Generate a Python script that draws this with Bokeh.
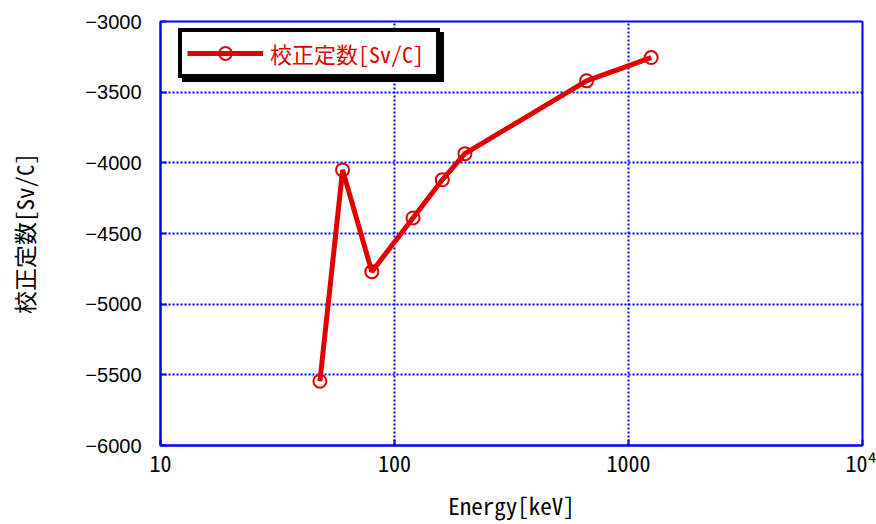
from bokeh.plotting import figure
from bokeh.models import Range1d, FixedTicker, Legend, LegendItem
from bokeh.embed import file_html
from bokeh.resources import INLINE

# ---- data ----
energy_kev = [48, 60, 80, 120, 160, 200, 662, 1250]
calib_const = [-5545, -4050, -4770, -4390, -4120, -3935, -3420, -3255]
x_ticks = [10, 100, 1000, 10000]
x_tick_labels = ["10", "100", "1000", "10⁴"]
y_ticks = [-6000, -5500, -5000, -4500, -4000, -3500, -3000]
series_label = "校正定数[Sv/C]"
x_label = "Energy[keV]"
y_label = "校正定数[Sv/C]"

CJK = "Noto Sans Mono CJK JP"
LAT = "Liberation Sans"
RED = "#e00000"
BLUE = "#0000ff"

p = figure(width=876, height=524, x_axis_type="log",
           x_range=Range1d(10, 10000), y_range=Range1d(-6000, -3000),
           output_backend="svg", toolbar_location=None,
           min_border_left=160, min_border_right=14,
           min_border_top=21, min_border_bottom=76)

p.background_fill_color = "white"
p.border_fill_color = "white"
p.outline_line_color = BLUE
p.outline_line_width = 2

# axes
p.xaxis.ticker = FixedTicker(ticks=x_ticks)
p.xaxis.major_label_overrides = {t: l for t, l in zip(x_ticks, x_tick_labels)}
p.yaxis.ticker = FixedTicker(ticks=y_ticks)
for ax in (p.xaxis, p.yaxis):
    ax.axis_line_color = BLUE
    ax.axis_line_width = 2
    ax.major_tick_line_color = BLUE
    ax.major_tick_line_width = 2
    ax.major_tick_in = 6
    ax.major_tick_out = 0
    ax.minor_tick_line_color = None
    ax.major_label_text_color = "black"
    ax.axis_label_text_color = "black"
    ax.axis_label_text_font = CJK
    ax.axis_label_text_font_size = "23px"
    ax.axis_label_text_font_style = "normal"

p.xaxis.major_label_text_font = CJK
p.xaxis.major_label_text_font_size = "22px"
p.xaxis.major_label_standoff = 0
p.xaxis.axis_label = x_label
p.xaxis.axis_label_standoff = 7

p.yaxis.major_label_text_font = LAT
p.yaxis.major_label_text_font_size = "20px"
p.yaxis.major_label_standoff = 19
p.yaxis.axis_label = y_label
p.yaxis.axis_label_standoff = 41

# grids
for g in (p.xgrid, p.ygrid):
    g.grid_line_color = BLUE
    g.grid_line_width = 2
    g.grid_line_dash = "2 2"
p.ygrid.ticker = FixedTicker(ticks=y_ticks)

# data
ln = p.line(energy_kev, calib_const, line_color=RED, line_width=5)
sc = p.scatter(energy_kev, calib_const, marker="circle", size=13,
               line_color=RED, line_width=2, fill_color=None)

common = dict(label_text_font=CJK, label_text_font_size="22px",
              glyph_width=76, glyph_height=32, label_standoff=7,
              label_width=161, padding=5, margin=0, spacing=0,
              border_line_width=4, border_line_alpha=1,
              background_fill_alpha=1)

# legend drop shadow (decoration only)
dummy = p.line([], [], line_alpha=0)
shadow = Legend(items=[LegendItem(label=" ", renderers=[dummy])],
                location=(22, 363), background_fill_color="black",
                border_line_color="black", label_text_color="black", **common)
p.add_layout(shadow)

legend = Legend(items=[LegendItem(label=series_label, renderers=[ln, sc])],
                location=(18, 367), background_fill_color="white",
                border_line_color="black", label_text_color=RED, **common)
p.add_layout(legend)

open("out.html", "w").write(file_html(p, INLINE))
